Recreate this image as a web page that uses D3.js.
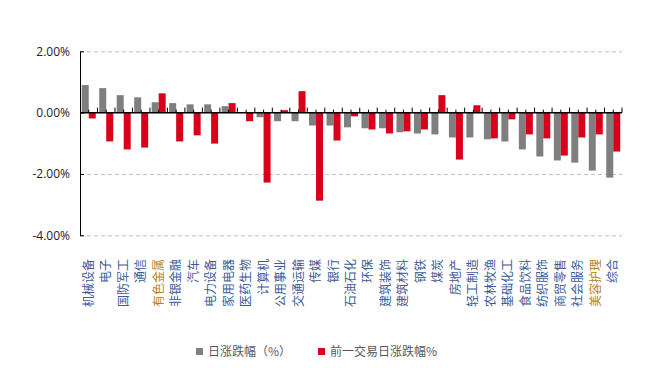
<!DOCTYPE html>
<html>
<head>
<meta charset="utf-8">
<script src="https://cdn.jsdelivr.net/npm/d3@7"></script>
<style>
  body { margin: 0; background: #fff; }
  text { font-family: "Noto Sans CJK SC", "Noto Sans", sans-serif; }
</style>
</head>
<body>
<svg id="chart" width="645" height="368"></svg>
<script>
// 行业名称
const categories = ['机械设备', '电子', '国防军工', '通信', '有色金属', '非银金融', '汽车', '电力设备',
  '家用电器', '医药生物', '计算机', '公用事业', '交通运输', '传媒', '银行', '石油石化', '环保',
  '建筑装饰', '建筑材料', '钢铁', '煤炭', '房地产', '轻工制造', '农林牧渔', '基础化工', '食品饮料',
  '纺织服饰', '商贸零售', '社会服务', '美容护理', '综合'];

// 日涨跌幅（%）
const dayChange = [0.90, 0.80, 0.57, 0.50, 0.34, 0.31, 0.27, 0.27, 0.21, 0.01, -0.15, -0.28, -0.28,
  -0.42, -0.42, -0.48, -0.51, -0.51, -0.64, -0.68, -0.71, -0.81, -0.81, -0.87, -0.94, -1.20,
  -1.43, -1.56, -1.63, -1.89, -2.12];

// 前一交易日涨跌幅%
const prevChange = [-0.19, -0.94, -1.20, -1.14, 0.63, -0.94, -0.74, -1.01, 0.31, -0.28, -2.28, 0.08,
  0.70, -2.87, -0.91, -0.12, -0.55, -0.68, -0.61, -0.55, 0.57, -1.53, 0.24, -0.84, -0.22, -0.71,
  -0.84, -1.40, -0.81, -0.71, -1.27];

const seriesNames = ['日涨跌幅（%）', '前一交易日涨跌幅%'];
const seriesColors = ['#7f7f7f', '#d9001b'];
const yTicks = [-4, -2, 0, 2];
const highlight = ['有色金属', '美容护理'];

const svg = d3.select('#chart');
const margin = { top: 51, right: 23, bottom: 133, left: 80 };
const width = 645, height = 368;

const x0 = d3.scaleBand()
  .domain(categories)
  .range([margin.left, width - margin.right])
  .paddingInner(0.2)
  .paddingOuter(0.1);

const x1 = d3.scaleBand()
  .domain(seriesNames)
  .range([0, x0.bandwidth()]);

const y = d3.scaleLinear()
  .domain([-4, 2])
  .range([235.3, 51.3]);

const color = d3.scaleOrdinal().domain(seriesNames).range(seriesColors);

// 网格线
svg.append('g')
  .selectAll('line')
  .data(yTicks.filter(d => d !== 0))
  .join('line')
  .attr('x1', margin.left)
  .attr('x2', width - margin.right)
  .attr('y1', d => y(d) + 0.5)
  .attr('y2', d => y(d) + 0.5)
  .attr('stroke', '#c0c0c0')
  .attr('stroke-dasharray', '4,3');

// 柱子
const rows = categories.map((c, i) => ({ name: c, values: [dayChange[i], prevChange[i]] }));
const groups = svg.append('g')
  .selectAll('g')
  .data(rows)
  .join('g')
  .attr('transform', d => `translate(${x0(d.name)},0)`);

groups.selectAll('rect')
  .data(d => d.values.map((v, k) => ({ key: seriesNames[k], value: v })))
  .join('rect')
  .attr('x', d => x1(d.key))
  .attr('width', x1.bandwidth())
  .attr('y', d => y(Math.max(0, d.value)))
  .attr('height', d => Math.abs(y(d.value) - y(0)))
  .attr('fill', d => color(d.key));

// Y轴
const yAxis = d3.axisLeft(y)
  .tickValues(yTicks)
  .tickFormat(d => d.toFixed(2) + '%')
  .tickSizeInner(-4)
  .tickSizeOuter(0)
  .tickPadding(10);

const gy = svg.append('g')
  .attr('transform', `translate(${margin.left},0)`)
  .call(yAxis);
gy.select('.domain').attr('stroke', '#000');
gy.selectAll('.tick line').attr('stroke', '#000');
gy.selectAll('.tick text')
  .attr('fill', '#222')
  .style('font-size', '12px')
  .style('font-family', '"Open Sans", "Noto Sans", sans-serif');

// 零轴与刻度
const zeroY = y(0);
svg.append('line')
  .attr('x1', margin.left)
  .attr('x2', width - margin.right)
  .attr('y1', zeroY)
  .attr('y2', zeroY)
  .attr('stroke', '#000')
  .attr('stroke-width', 1.5);

const step = x0.step();
const edges = categories.map(c => x0(c) - x0.paddingInner() * step / 2).concat([width - margin.right]);
svg.append('g')
  .selectAll('line')
  .data(edges.slice(1))
  .join('line')
  .attr('x1', d => d)
  .attr('x2', d => d)
  .attr('y1', zeroY)
  .attr('y2', zeroY - 5)
  .attr('stroke', '#000');

svg.append('g')
  .selectAll('line')
  .data(categories)
  .join('line')
  .attr('x1', d => x0(d) + x0.bandwidth() / 2)
  .attr('x2', d => x0(d) + x0.bandwidth() / 2)
  .attr('y1', zeroY)
  .attr('y2', zeroY - 3)
  .attr('stroke', '#000');

// 类别标签
svg.append('g')
  .selectAll('text')
  .data(categories)
  .join('text')
  .attr('transform', d => `translate(${x0(d) + x0.bandwidth() / 2 + 4},259) rotate(-90)`)
  .attr('text-anchor', 'end')
  .attr('fill', d => highlight.includes(d) ? '#b8801e' : '#3d5a96')
  .style('font-size', '12px')
  .text(d => d);

// 图例
const legendItems = [{ name: seriesNames[0], x: 196 }, { name: seriesNames[1], x: 318 }];
const legend = svg.append('g')
  .selectAll('g')
  .data(legendItems)
  .join('g')
  .attr('transform', d => `translate(${d.x},348)`);
legend.append('rect')
  .attr('width', 7)
  .attr('height', 7)
  .attr('fill', d => color(d.name));
legend.append('text')
  .attr('x', 12)
  .attr('y', 8)
  .attr('fill', '#595959')
  .style('font-size', '12px')
  .text(d => d.name);
</script>
</body>
</html>
